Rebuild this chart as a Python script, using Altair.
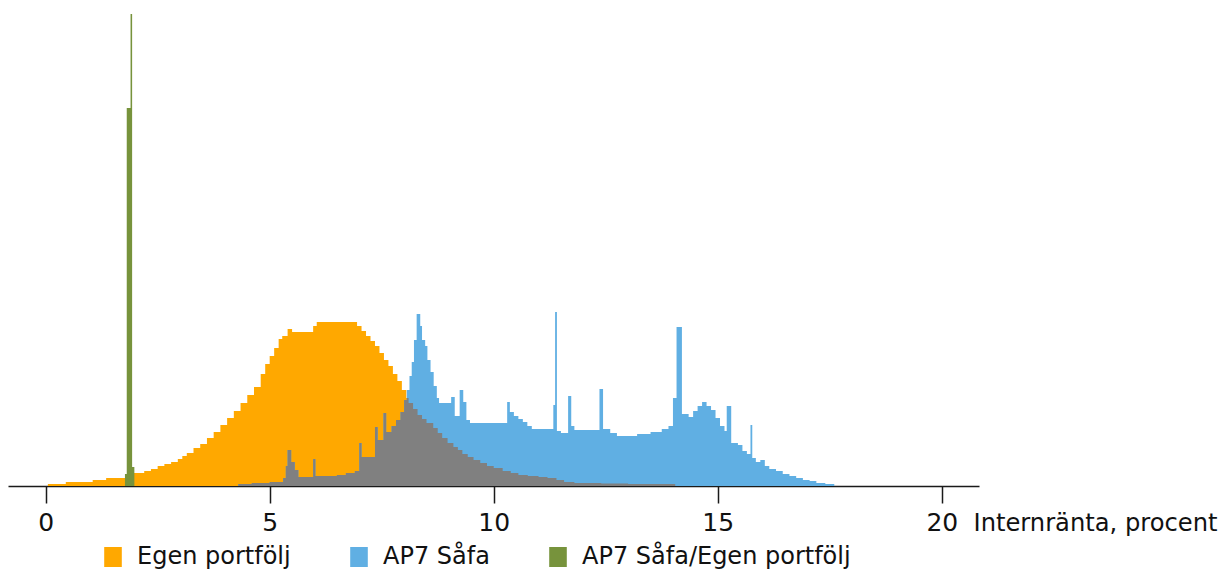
import altair as alt
import pandas as pd

# ---- data (heights in arbitrary units, bins as step edges) ----
orange_start = [
    0.05, 0.45, 1.05, 1.35, 1.97, 2.2, 2.35, 2.5, 2.65, 2.8,
    2.95, 3.05, 3.15, 3.3, 3.45, 3.6, 3.75, 3.9, 4.05, 4.2,
    4.35, 4.5, 4.65, 4.8, 4.9, 5.0, 5.1, 5.2, 5.28, 5.4,
    5.5, 5.97, 6.05, 6.95, 7.05, 7.15, 7.25, 7.35, 7.45, 7.55,
    7.65, 7.75, 7.85, 7.95, 8.05, 8.1, 8.2, 8.3, 8.4, 8.5,
    8.65, 8.75, 8.85, 8.97, 9.1, 9.2, 9.3, 9.42, 9.55, 9.7,
    9.85, 10.0, 10.2, 10.38, 10.55, 10.76, 11.0, 11.2, 11.4, 11.57,
    11.8, 12.4, 13.0]
orange_h = [
    2, 4, 6, 8, 13, 15, 17, 20, 22, 24,
    27, 30, 33, 38, 42, 48, 54, 61, 68, 75,
    83, 91, 99, 112, 122, 130, 138, 147, 150, 157,
    154, 160, 164, 160, 155, 150, 145, 140, 133, 126,
    120, 112, 105, 96, 88, 83, 77, 71, 67, 63,
    58, 53, 48, 43, 39, 36, 32, 29, 26, 23,
    20, 18, 15, 13, 11, 10, 9, 8, 6, 4,
    3, 2.5, 2]
orange_end = 14.05

blue_start = [
    4.3, 4.6, 5.0, 5.3, 5.36, 5.4, 5.48, 5.56, 5.64, 5.97,
    6.02, 6.5, 6.7, 6.9, 7.0, 7.05, 7.35, 7.41, 7.54, 7.6,
    7.72, 7.82, 7.92, 8.0, 8.06, 8.12, 8.17, 8.22, 8.28, 8.36,
    8.4, 8.47, 8.52, 8.59, 8.66, 8.73, 8.78, 9.05, 9.13, 9.24,
    9.32, 9.39, 9.47, 10.3, 10.36, 10.45, 10.55, 10.65, 10.75, 10.85,
    11.33, 11.37, 11.41, 11.5, 11.66, 11.73, 11.8, 12.36, 12.44, 12.6,
    12.75, 13.2, 13.5, 13.75, 13.9, 14.0, 14.08, 14.2, 14.35, 14.45,
    14.55, 14.65, 14.75, 14.85, 14.95, 15.05, 15.15, 15.2, 15.3, 15.45,
    15.55, 15.65, 15.73, 15.77, 15.85, 15.95, 16.05, 16.15, 16.3, 16.45,
    16.6, 16.75, 16.9, 17.05, 17.2, 17.4]
blue_h = [
    2, 3, 4, 8, 20, 36, 24, 16, 9, 27,
    10, 11, 13, 15, 43, 29, 59, 46, 73, 54,
    60, 66, 74, 86, 96, 110, 124, 146, 172, 160,
    146, 140, 126, 114, 100, 88, 83, 89, 70, 96,
    84, 66, 63, 84, 74, 70, 67, 64, 60, 57,
    81, 174, 55, 53, 90, 60, 56, 97, 57, 53,
    50, 52, 54, 57, 60, 88, 159, 72, 69, 75,
    80, 84, 80, 76, 68, 60, 55, 80, 43, 41,
    35, 32, 61, 28, 24, 26, 20, 17, 15, 12,
    10, 8, 6, 5, 3, 2]
blue_end = 17.6

green_start = [1.77, 1.81, 1.895, 1.93]
green_h = [12, 378, 472, 19]
green_end = 1.98

series_names = ["Egen portfölj", "AP7 Såfa", "AP7 Såfa/Egen portfölj"]
series_colors = ["#FFA800", "#60AFE3", "#77933C"]
overlap_color = "#808080"
tick_values = [0, 5, 10, 15, 20]
axis_title = "Internränta, procent"


def step_rows(starts, heights, end, name):
    rows = [{"x": s, "h": h, "series": name} for s, h in zip(starts, heights)]
    rows.append({"x": end, "h": 0, "series": name})
    return rows


def step_value(starts, heights, end, x):
    if x < starts[0] or x >= end:
        return 0
    v = 0
    for s, h in zip(starts, heights):
        if s <= x:
            v = h
        else:
            break
    return v


# overlap (shown grey) = the part where both distributions are present
lo = max(orange_start[0], blue_start[0])
hi = min(orange_end, blue_end)
bps = sorted(set([b for b in orange_start + blue_start if lo <= b < hi] + [lo]))
gray_rows = [{"x": b,
              "h": min(step_value(orange_start, orange_h, orange_end, b),
                       step_value(blue_start, blue_h, blue_end, b)),
              "series": "overlap"} for b in bps]
gray_rows.append({"x": hi, "h": 0, "series": "overlap"})

df_orange = pd.DataFrame(step_rows(orange_start, orange_h, orange_end, series_names[0]))
df_blue = pd.DataFrame(step_rows(blue_start, blue_h, blue_end, series_names[1]))
df_green = pd.DataFrame(step_rows(green_start, green_h, green_end, series_names[2]))
df_gray = pd.DataFrame(gray_rows)

W, H = 971, 472
xscale = alt.Scale(domain=[-0.84, 20.83], nice=False, zero=False)
yscale = alt.Scale(domain=[0, 472], nice=False, zero=True)
xaxis = alt.Axis(values=tick_values, grid=False, title=axis_title,
                 domainColor="#1a1a1a", domainWidth=1.5,
                 tickColor="#1a1a1a", tickWidth=1.5, tickSize=17,
                 labelFontSize=25, labelColor="#111111", labelBaseline="alphabetic",
                 labelPadding=27, labelFont="DejaVu Sans",
                 titleFontSize=24.2, titleFontWeight="normal", titleColor="#111111",
                 titleFont="DejaVu Sans", titleAlign="left", titleBaseline="alphabetic",
                 titleAnchor="start", titleX=965, titleY=44)
color_enc = alt.Color("series:N",
                      scale=alt.Scale(domain=series_names, range=series_colors),
                      legend=alt.Legend(title=None, orient="none", direction="horizontal",
                                        legendX=93, legendY=531,
                                        symbolType="M-0.88,-1H0.88V1H-0.88Z",
                                        symbolSize=400, symbolStrokeWidth=0,
                                        symbolOpacity=1, labelLimit=0,
                                        labelFontSize=24, labelFont="DejaVu Sans",
                                        labelColor="#111111", labelOffset=12,
                                        columnPadding=56))


def area_layer(df, color):
    return alt.Chart(df).mark_area(interpolate="step-after", opacity=1).encode(
        x=alt.X("x:Q", scale=xscale, axis=xaxis),
        y=alt.Y("h:Q", scale=yscale, axis=None, stack=None),
        color=color,
    )


chart = alt.layer(
    area_layer(df_orange, color_enc),
    area_layer(df_blue, color_enc),
    area_layer(df_gray, alt.value(overlap_color)),
    area_layer(df_green, color_enc),
).properties(
    width=W, height=H,
    padding={"left": 0, "top": 6, "right": 0, "bottom": 0},
).configure(font="DejaVu Sans").configure_view(stroke=None)

chart.save("out.html", embed_options={"renderer": "svg", "actions": False})
